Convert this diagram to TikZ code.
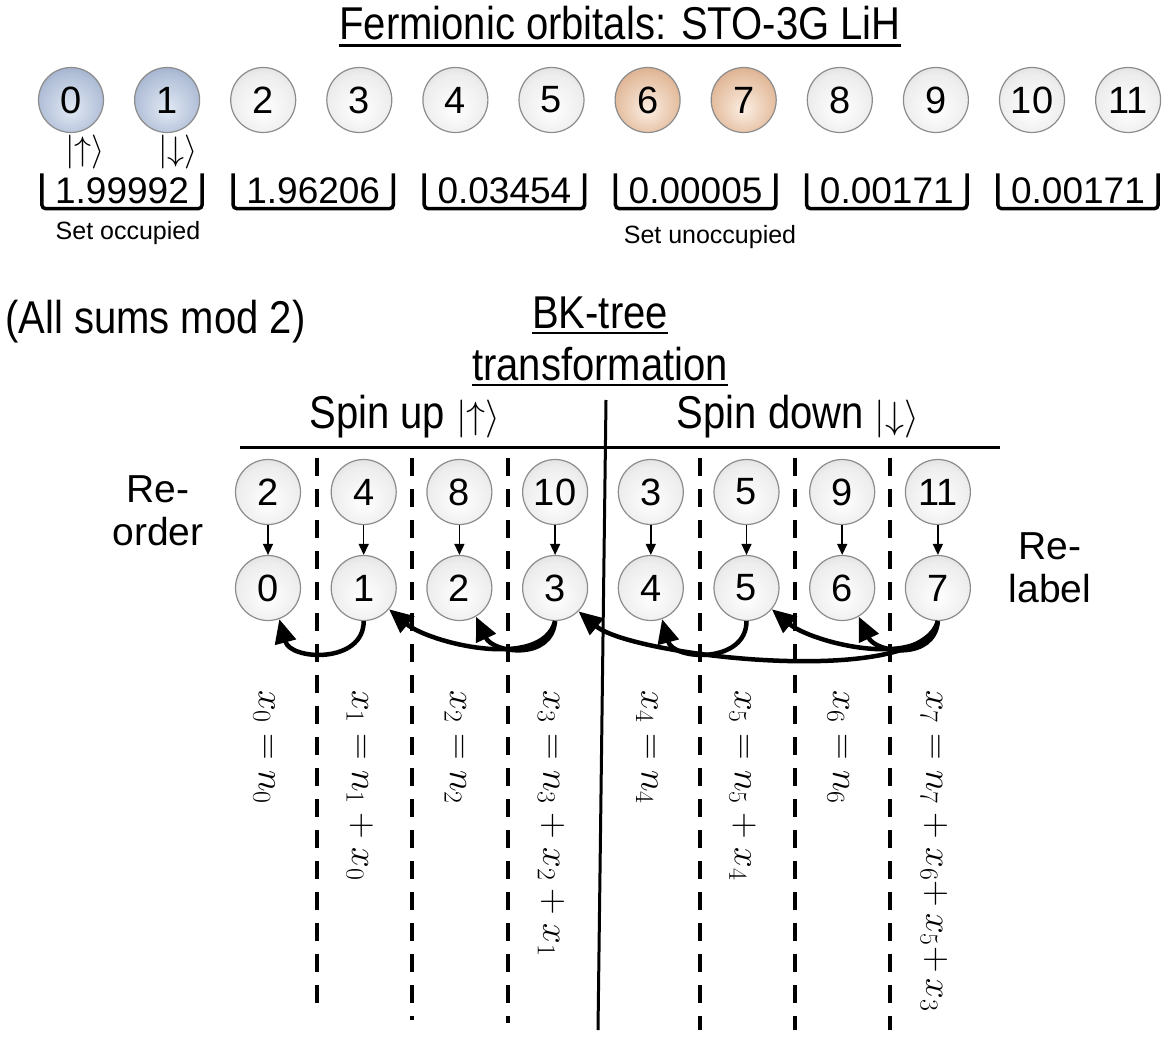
\documentclass[tikz,border=0pt]{standalone}
\usepackage{fix-cm}
\usepackage{fontspec}
\setmainfont{Liberation Sans}
\newfontfamily\narrowsans[FakeStretch=0.87]{Liberation Sans}
\usetikzlibrary{arrows.meta}

% sphere shadings
\pgfdeclareradialshading{grayorb}{\pgfpoint{0bp}{-8bp}}{color(0bp)=(white); color(24bp)=(white!93!black);
  color(40bp)=(white!80!black); color(50bp)=(white!66!black)}
\pgfdeclareradialshading{blueorb}{\pgfpoint{0bp}{-8bp}}{color(0bp)=(rgb,255:red,226;green,233;blue,244);
  color(24bp)=(rgb,255:red,178;green,192;blue,216); color(40bp)=(rgb,255:red,132;green,151;blue,186);
  color(50bp)=(rgb,255:red,96;green,116;blue,152)}
\pgfdeclareradialshading{brownorb}{\pgfpoint{0bp}{-8bp}}{color(0bp)=(rgb,255:red,252;green,238;blue,226);
  color(24bp)=(rgb,255:red,228;green,190;blue,160); color(40bp)=(rgb,255:red,202;green,148;blue,110);
  color(50bp)=(rgb,255:red,168;green,112;blue,76)}

\newcommand\ballfont{\fontsize{38}{40}\selectfont}

\tikzset{
  orb/.style={circle, draw=black!45, line width=1.2pt, minimum size=65pt, inner sep=0pt,
    shade, shading=grayorb, font=\ballfont},
  occ/.style={orb, shading=blueorb},
  unocc/.style={orb, shading=brownorb},
  heading/.style={inner sep=0pt, font=\narrowsans\fontsize{46}{50}\selectfont},
  uline/.style={line width=2.5pt},
  ket/.style={inner sep=0pt, font=\fontsize{34}{36}\selectfont},
  occnum/.style={minimum width=160pt, minimum height=35pt, inner sep=0pt, font=\fontsize{37}{40}\selectfont},
  brk/.style={line width=3.5pt, rounded corners=4pt},
  note/.style={inner sep=0pt, font=\fontsize{25}{28}\selectfont},
  side/.style={align=center, inner sep=0pt, font=\fontsize{39}{43}\selectfont},
  rule/.style={line width=3pt},
  sep/.style={line width=4pt, dash pattern=on 18pt off 13pt},
  reord/.style={line width=1.5pt, -{Triangle[length=11pt,width=10pt]}},
  bkarr/.style={line width=4.5pt, -{Triangle[length=24pt,width=21pt]}},
  eqn/.style={rotate=-90, anchor=west, inner sep=0pt, font=\fontsize{37}{40}\selectfont}
}
\newcommand\spinket[1]{{\fontsize{38}{40}\selectfont$|{#1}\rangle$}}

\begin{document}
\begin{tikzpicture}[x=1pt,y=1pt]
\useasboundingbox (0,0) rectangle (1173,-1038);

% Fermionic orbitals
\node[heading, anchor=base] (title) at (620,-40) {Fermionic orbitals: STO-3G LiH};
\draw[uline] ([yshift=-5pt]title.south west) -- ([yshift=-5pt]title.south east);
\foreach \i/\s in {0/occ,1/occ,2/orb,3/orb,4/orb,5/orb,6/unocc,7/unocc,8/orb,9/orb,10/orb,11/orb}
  \node[\s] (f\i) at ({71+96.1*\i},-100) {\i};
\node[ket] (up) at (85,-152) {$|{\uparrow}\rangle$};
\node[ket] (dn) at (178,-152) {$|{\downarrow}\rangle$};

% occupation numbers
\foreach \v [count=\k from 0] in {1.99992,1.96206,0.03454,0.00005,0.00171,0.00171} {
  \node[occnum] (p\k) at ({122+191.2*\k},-191) {\v};
  \draw[brk] (p\k.north west) -- (p\k.south west) -- (p\k.south east) -- (p\k.north east);
}
\node[note] (setocc) at (128,-233) {Set occupied};
\node[note] (setunocc) at (710,-237) {Set unoccupied};

% BK-tree transformation
\node[heading, anchor=west] (mod) at (5,-322) {(All sums mod 2)};
\node[heading] (bk) at (600,-313) {BK-tree};
\draw[uline] ([yshift=-4pt]bk.south west) -- ([yshift=-4pt]bk.south east);
\node[heading] (trf) at (600,-364) {transformation};
\draw[uline] ([yshift=-4pt]trf.south west) -- ([yshift=-4pt]trf.south east);
\node[heading] (sup) at (405,-417) {Spin up \spinket{\uparrow}};
\node[heading] (sdn) at (798,-417) {Spin down \spinket{\downarrow}};

% table rules
\draw[rule] (240,-447) -- (1000,-447);
\draw[rule] (606,-400) -- (598,-1030);
\foreach \x/\yb in {317/1013,412/1020,508/1023,700/1030,795/1030,890/1030}
  \draw[sep] (\x,-458) -- (\x,-\yb);

% re-order and re-label
\foreach \o [count=\k from 0] in {2,4,8,10,3,5,9,11} {
  \node[orb] (t\k) at ({268+95.7*\k},-492) {\o};
  \node[orb] (b\k) at ({268+95.7*\k},-588) {\k};
  \draw[reord] (t\k) -- (b\k);
}
\node[side] (reorder) at (158,-511) {Re-\\order};
\node[side] (relabel) at (1050,-568) {Re-\\label};

% parity sums
\draw[bkarr] (b1.south) to[out=-90,in=-75,looseness=1.3] (b0.-70);
\draw[bkarr] (b3.south) to[out=-95,in=-65,looseness=1.3] (b2.-60);
\draw[bkarr] (b3.south) to[out=-105,in=-40,looseness=0.8] (b1.-40);
\draw[bkarr] (b7.south) to[out=-105,in=-40,looseness=0.5] (b3.-45);
\draw[bkarr] (b5.south) to[out=-90,in=-75,looseness=1.3] (b4.-70);
\draw[bkarr] (b7.south) to[out=-95,in=-65,looseness=1.3] (b6.-60);
\draw[bkarr] (b7.south) to[out=-105,in=-40,looseness=0.8] (b5.-40);

% equations
\foreach \k/\eq in {0/{x_0 = n_0}, 1/{x_1 = n_1 + x_0}, 2/{x_2 = n_2},
    3/{x_3 = n_3 + x_2 + x_1}, 4/{x_4 = n_4}, 5/{x_5 = n_5 + x_4}, 6/{x_6 = n_6},
    7/{x_7 = n_7 + x_6{+}\,x_5{+}\,x_3}}
  \node[eqn] (e\k) at ({264+95.7*\k},-690) {$\eq$};
\end{tikzpicture}
\end{document}
